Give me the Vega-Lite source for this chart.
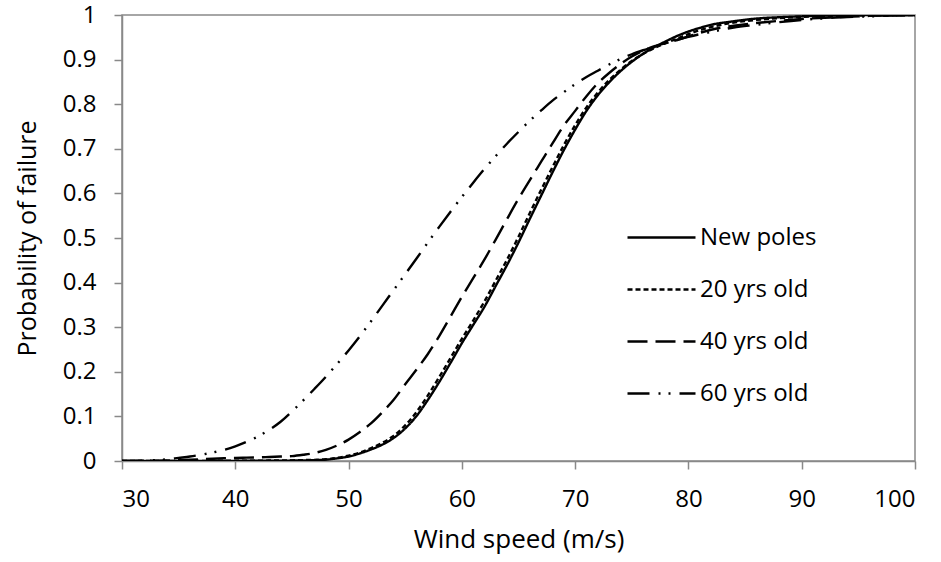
{
  "$schema": "https://vega.github.io/schema/vega-lite/v6.json",
  "width": 793,
  "height": 446,
  "autosize": "none",
  "padding": {"left": 122, "top": 15, "right": 26, "bottom": 101},
  "background": "white",
  "config": {
    "view": {"stroke": "#898989", "strokeWidth": 1.5},
    "font": "Open Sans",
    "axis": {
      "domainColor": "#898989", "domainWidth": 1.5,
      "tickColor": "#898989", "tickWidth": 1.5, "tickSize": 8,
      "grid": false,
      "labelFont": "Open Sans", "labelFontSize": 24, "labelColor": "#000000",
      "titleFont": "Open Sans", "titleFontSize": 25, "titleFontWeight": "normal", "titleColor": "#000000"
    }
  },
  "data": {"values": [
    {"s":"New poles","w":30,"p":0},{"s":"New poles","w":32,"p":0},{"s":"New poles","w":34,"p":0},{"s":"New poles","w":35,"p":0},{"s":"New poles","w":36,"p":0},{"s":"New poles","w":37,"p":0},{"s":"New poles","w":38,"p":0.0002},{"s":"New poles","w":39,"p":0.0003},{"s":"New poles","w":40,"p":0.0004},{"s":"New poles","w":41,"p":0.0005},{"s":"New poles","w":42,"p":0.0006},{"s":"New poles","w":43,"p":0.0007},{"s":"New poles","w":44,"p":0.0008},{"s":"New poles","w":45,"p":0.001},{"s":"New poles","w":46,"p":0.0013},{"s":"New poles","w":47,"p":0.0018},{"s":"New poles","w":48,"p":0.003},{"s":"New poles","w":49,"p":0.006},{"s":"New poles","w":50,"p":0.01},{"s":"New poles","w":51,"p":0.017},{"s":"New poles","w":52,"p":0.026},{"s":"New poles","w":53,"p":0.037},{"s":"New poles","w":54,"p":0.052},{"s":"New poles","w":55,"p":0.073},{"s":"New poles","w":56,"p":0.101},{"s":"New poles","w":57,"p":0.137},{"s":"New poles","w":58,"p":0.177},{"s":"New poles","w":59,"p":0.22},{"s":"New poles","w":60,"p":0.264},{"s":"New poles","w":61,"p":0.305},{"s":"New poles","w":62,"p":0.346},{"s":"New poles","w":63,"p":0.393},{"s":"New poles","w":64,"p":0.44},{"s":"New poles","w":65,"p":0.49},{"s":"New poles","w":66,"p":0.543},{"s":"New poles","w":67,"p":0.595},{"s":"New poles","w":68,"p":0.647},{"s":"New poles","w":69,"p":0.697},{"s":"New poles","w":70,"p":0.743},{"s":"New poles","w":71,"p":0.785},{"s":"New poles","w":72,"p":0.82},{"s":"New poles","w":73,"p":0.849},{"s":"New poles","w":74,"p":0.874},{"s":"New poles","w":75,"p":0.895},{"s":"New poles","w":76,"p":0.913},{"s":"New poles","w":77,"p":0.928},{"s":"New poles","w":78,"p":0.941},{"s":"New poles","w":79,"p":0.953},{"s":"New poles","w":80,"p":0.963},{"s":"New poles","w":81,"p":0.971},{"s":"New poles","w":82,"p":0.978},{"s":"New poles","w":84,"p":0.986},{"s":"New poles","w":86,"p":0.992},{"s":"New poles","w":88,"p":0.995},{"s":"New poles","w":90,"p":0.997},{"s":"New poles","w":93,"p":0.999},{"s":"New poles","w":96,"p":1},{"s":"New poles","w":100,"p":1},

    {"s":"20 yrs old","w":30,"p":0},{"s":"20 yrs old","w":32,"p":0},{"s":"20 yrs old","w":34,"p":0},{"s":"20 yrs old","w":35,"p":0},{"s":"20 yrs old","w":36,"p":0.0002},{"s":"20 yrs old","w":37,"p":0.0003},{"s":"20 yrs old","w":38,"p":0.0004},{"s":"20 yrs old","w":39,"p":0.0005},{"s":"20 yrs old","w":40,"p":0.0006},{"s":"20 yrs old","w":41,"p":0.0007},{"s":"20 yrs old","w":42,"p":0.0008},{"s":"20 yrs old","w":43,"p":0.001},{"s":"20 yrs old","w":44,"p":0.0012},{"s":"20 yrs old","w":45,"p":0.0015},{"s":"20 yrs old","w":46,"p":0.002},{"s":"20 yrs old","w":47,"p":0.0026},{"s":"20 yrs old","w":48,"p":0.0038},{"s":"20 yrs old","w":49,"p":0.007},{"s":"20 yrs old","w":50,"p":0.012},{"s":"20 yrs old","w":51,"p":0.019},{"s":"20 yrs old","w":52,"p":0.029},{"s":"20 yrs old","w":53,"p":0.041},{"s":"20 yrs old","w":54,"p":0.057},{"s":"20 yrs old","w":55,"p":0.08},{"s":"20 yrs old","w":56,"p":0.11},{"s":"20 yrs old","w":57,"p":0.147},{"s":"20 yrs old","w":58,"p":0.188},{"s":"20 yrs old","w":59,"p":0.231},{"s":"20 yrs old","w":60,"p":0.274},{"s":"20 yrs old","w":61,"p":0.315},{"s":"20 yrs old","w":62,"p":0.358},{"s":"20 yrs old","w":63,"p":0.405},{"s":"20 yrs old","w":64,"p":0.452},{"s":"20 yrs old","w":65,"p":0.503},{"s":"20 yrs old","w":66,"p":0.556},{"s":"20 yrs old","w":67,"p":0.608},{"s":"20 yrs old","w":68,"p":0.659},{"s":"20 yrs old","w":69,"p":0.708},{"s":"20 yrs old","w":70,"p":0.753},{"s":"20 yrs old","w":71,"p":0.793},{"s":"20 yrs old","w":72,"p":0.826},{"s":"20 yrs old","w":73,"p":0.854},{"s":"20 yrs old","w":74,"p":0.877},{"s":"20 yrs old","w":75,"p":0.897},{"s":"20 yrs old","w":76,"p":0.913},{"s":"20 yrs old","w":77,"p":0.926},{"s":"20 yrs old","w":78,"p":0.937},{"s":"20 yrs old","w":79,"p":0.947},{"s":"20 yrs old","w":80,"p":0.957},{"s":"20 yrs old","w":81,"p":0.966},{"s":"20 yrs old","w":82,"p":0.973},{"s":"20 yrs old","w":84,"p":0.983},{"s":"20 yrs old","w":86,"p":0.989},{"s":"20 yrs old","w":88,"p":0.993},{"s":"20 yrs old","w":90,"p":0.996},{"s":"20 yrs old","w":93,"p":0.998},{"s":"20 yrs old","w":96,"p":0.999},{"s":"20 yrs old","w":100,"p":1},

    {"s":"40 yrs old","w":30,"p":0},{"s":"40 yrs old","w":32,"p":0.0005},{"s":"40 yrs old","w":34,"p":0.001},{"s":"40 yrs old","w":35,"p":0.002},{"s":"40 yrs old","w":36,"p":0.003},{"s":"40 yrs old","w":37,"p":0.004},{"s":"40 yrs old","w":38,"p":0.005},{"s":"40 yrs old","w":39,"p":0.006},{"s":"40 yrs old","w":40,"p":0.007},{"s":"40 yrs old","w":41,"p":0.0075},{"s":"40 yrs old","w":42,"p":0.008},{"s":"40 yrs old","w":43,"p":0.009},{"s":"40 yrs old","w":44,"p":0.01},{"s":"40 yrs old","w":45,"p":0.011},{"s":"40 yrs old","w":46,"p":0.014},{"s":"40 yrs old","w":47,"p":0.018},{"s":"40 yrs old","w":48,"p":0.025},{"s":"40 yrs old","w":49,"p":0.035},{"s":"40 yrs old","w":50,"p":0.048},{"s":"40 yrs old","w":51,"p":0.065},{"s":"40 yrs old","w":52,"p":0.085},{"s":"40 yrs old","w":53,"p":0.11},{"s":"40 yrs old","w":54,"p":0.138},{"s":"40 yrs old","w":55,"p":0.172},{"s":"40 yrs old","w":56,"p":0.205},{"s":"40 yrs old","w":57,"p":0.24},{"s":"40 yrs old","w":58,"p":0.28},{"s":"40 yrs old","w":59,"p":0.324},{"s":"40 yrs old","w":60,"p":0.368},{"s":"40 yrs old","w":61,"p":0.41},{"s":"40 yrs old","w":62,"p":0.452},{"s":"40 yrs old","w":63,"p":0.497},{"s":"40 yrs old","w":64,"p":0.543},{"s":"40 yrs old","w":65,"p":0.588},{"s":"40 yrs old","w":66,"p":0.63},{"s":"40 yrs old","w":67,"p":0.671},{"s":"40 yrs old","w":68,"p":0.712},{"s":"40 yrs old","w":69,"p":0.752},{"s":"40 yrs old","w":70,"p":0.785},{"s":"40 yrs old","w":71,"p":0.818},{"s":"40 yrs old","w":72,"p":0.847},{"s":"40 yrs old","w":73,"p":0.87},{"s":"40 yrs old","w":74,"p":0.89},{"s":"40 yrs old","w":75,"p":0.907},{"s":"40 yrs old","w":76,"p":0.92},{"s":"40 yrs old","w":77,"p":0.93},{"s":"40 yrs old","w":78,"p":0.937},{"s":"40 yrs old","w":79,"p":0.944},{"s":"40 yrs old","w":80,"p":0.952},{"s":"40 yrs old","w":81,"p":0.96},{"s":"40 yrs old","w":82,"p":0.967},{"s":"40 yrs old","w":84,"p":0.976},{"s":"40 yrs old","w":86,"p":0.982},{"s":"40 yrs old","w":88,"p":0.987},{"s":"40 yrs old","w":90,"p":0.991},{"s":"40 yrs old","w":93,"p":0.995},{"s":"40 yrs old","w":96,"p":0.998},{"s":"40 yrs old","w":100,"p":1},

    {"s":"60 yrs old","w":30,"p":0},{"s":"60 yrs old","w":32,"p":0.001},{"s":"60 yrs old","w":34,"p":0.004},{"s":"60 yrs old","w":35,"p":0.007},{"s":"60 yrs old","w":36,"p":0.01},{"s":"60 yrs old","w":37,"p":0.014},{"s":"60 yrs old","w":38,"p":0.019},{"s":"60 yrs old","w":39,"p":0.025},{"s":"60 yrs old","w":40,"p":0.033},{"s":"60 yrs old","w":41,"p":0.043},{"s":"60 yrs old","w":42,"p":0.055},{"s":"60 yrs old","w":43,"p":0.07},{"s":"60 yrs old","w":44,"p":0.088},{"s":"60 yrs old","w":45,"p":0.111},{"s":"60 yrs old","w":46,"p":0.136},{"s":"60 yrs old","w":47,"p":0.162},{"s":"60 yrs old","w":48,"p":0.189},{"s":"60 yrs old","w":49,"p":0.218},{"s":"60 yrs old","w":50,"p":0.248},{"s":"60 yrs old","w":51,"p":0.28},{"s":"60 yrs old","w":52,"p":0.314},{"s":"60 yrs old","w":53,"p":0.349},{"s":"60 yrs old","w":54,"p":0.384},{"s":"60 yrs old","w":55,"p":0.419},{"s":"60 yrs old","w":56,"p":0.454},{"s":"60 yrs old","w":57,"p":0.49},{"s":"60 yrs old","w":58,"p":0.525},{"s":"60 yrs old","w":59,"p":0.559},{"s":"60 yrs old","w":60,"p":0.592},{"s":"60 yrs old","w":61,"p":0.624},{"s":"60 yrs old","w":62,"p":0.655},{"s":"60 yrs old","w":63,"p":0.684},{"s":"60 yrs old","w":64,"p":0.712},{"s":"60 yrs old","w":65,"p":0.738},{"s":"60 yrs old","w":66,"p":0.763},{"s":"60 yrs old","w":67,"p":0.786},{"s":"60 yrs old","w":68,"p":0.808},{"s":"60 yrs old","w":69,"p":0.827},{"s":"60 yrs old","w":70,"p":0.845},{"s":"60 yrs old","w":71,"p":0.861},{"s":"60 yrs old","w":72,"p":0.875},{"s":"60 yrs old","w":73,"p":0.889},{"s":"60 yrs old","w":74,"p":0.901},{"s":"60 yrs old","w":75,"p":0.912},{"s":"60 yrs old","w":76,"p":0.921},{"s":"60 yrs old","w":77,"p":0.929},{"s":"60 yrs old","w":78,"p":0.937},{"s":"60 yrs old","w":79,"p":0.944},{"s":"60 yrs old","w":80,"p":0.951},{"s":"60 yrs old","w":81,"p":0.957},{"s":"60 yrs old","w":82,"p":0.962},{"s":"60 yrs old","w":84,"p":0.972},{"s":"60 yrs old","w":86,"p":0.978},{"s":"60 yrs old","w":88,"p":0.984},{"s":"60 yrs old","w":90,"p":0.989},{"s":"60 yrs old","w":93,"p":0.994},{"s":"60 yrs old","w":96,"p":0.997},{"s":"60 yrs old","w":100,"p":1}
  ]},
  "mark": {"type": "line", "color": "#000000", "strokeWidth": 2.4, "interpolate": "monotone", "clip": true},
  "encoding": {
    "x": {
      "field": "w", "type": "quantitative",
      "scale": {"domain": [30, 100], "nice": false, "zero": false},
      "axis": {"values": [30, 40, 50, 60, 70, 80, 90, 100], "title": "Wind speed (m/s)", "labelPadding": 18, "titleY": 86, "titleBaseline": "alphabetic", "titleFontSize": 26}
    },
    "y": {
      "field": "p", "type": "quantitative",
      "scale": {"domain": [0, 1], "nice": false},
      "axis": {"values": [0, 0.1, 0.2, 0.3, 0.4, 0.5, 0.6, 0.7, 0.8, 0.9, 1], "format": "~g", "title": "Probability of failure", "labelPadding": 18, "titleX": -95, "titleBaseline": "middle"}
    },
    "strokeDash": {
      "field": "s", "type": "nominal",
      "scale": {"domain": ["New poles", "20 yrs old", "40 yrs old", "60 yrs old"], "range": [[1, 0], [5, 3], [20, 8], [22, 9, 2, 8, 2, 9]]},
      "legend": {
        "orient": "none", "legendX": 504, "legendY": 187, "title": null,
        "symbolType": "stroke", "symbolSize": 4624, "symbolStrokeWidth": 2.4, "symbolStrokeColor": "#000000",
        "labelFont": "Open Sans", "labelFontSize": 24, "labelColor": "#000000", "labelOffset": 3,
        "rowPadding": 4, "padding": 0
      }
    }
  }
}
